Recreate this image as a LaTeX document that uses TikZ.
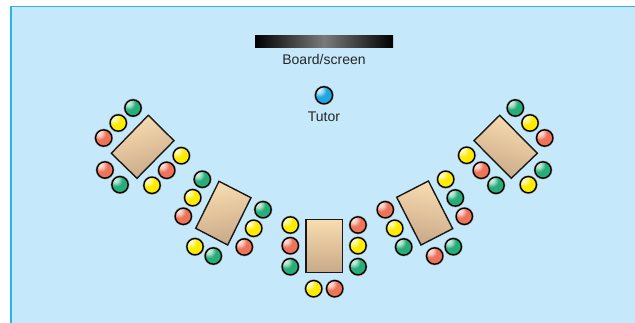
\documentclass[tikz,border=0pt]{standalone}
\usepackage{fontspec}
\setmainfont{Liberation Sans}
\definecolor{roombg}{HTML}{C5E9FB}
\definecolor{roomline}{HTML}{29B5E8}
\definecolor{tablelight}{HTML}{FADCB0}
\definecolor{tabledark}{HTML}{C8A988}
\newcommand{\defball}[4]{%
  \pgfdeclareradialshading{#1}{\pgfpoint{-16bp}{18bp}}{%
    color(0bp)=(#2!15!white); color(10bp)=(#2!40!white); color(20bp)=(#3); color(42bp)=(#3); color(70bp)=(#4); color(100bp)=(#4)}}
\definecolor{rb}{HTML}{EE7358}\definecolor{rd}{HTML}{B04A36}
\definecolor{yb}{HTML}{FFEB00}\definecolor{yd}{HTML}{BFA800}
\definecolor{gb}{HTML}{27AE78}\definecolor{gd}{HTML}{107048}
\definecolor{bb}{HTML}{1FA5E0}\definecolor{bd}{HTML}{0F6FA8}
\defball{ballred}{rb}{rb}{rd}
\defball{ballyellow}{yb}{yb}{yd}
\defball{ballgreen}{gb}{gb}{gd}
\defball{ballblue}{bb}{bb}{bd}
\pgfdeclarehorizontalshading{boardshade}{100bp}{color(0bp)=(black); color(25bp)=(black); color(50bp)=(black!52); color(75bp)=(black); color(100bp)=(black)}
\tikzset{
  ball/.style={circle,inner sep=0pt,minimum size=12.2pt,draw=black,line width=1pt,
    preaction={draw=black!40,line width=1.8pt}},
  tablebox/.style={draw=black!90,line width=1.05pt,line join=miter,top color=tablelight,bottom color=tabledark},
  lab/.style={inner sep=0pt,text=black!85,font=\fontsize{10.5pt}{12pt}\selectfont}
}
\begin{document}
\begin{tikzpicture}[x=0.75pt,y=-0.75pt]
\useasboundingbox (0,0) rectangle (635,323);
\fill[white] (0,0) rectangle (635,323);
\fill[roombg] (11,6.5) rectangle (635,323);
\draw[roomline,line width=0.8pt] (635,6.5) -- (11,6.5) -- (11,323);
% board
\shade[shading=boardshade] (255,36) rectangle (393,48);
\node[lab] (board) at (324,59.5) {Board/screen};
\node[ball,minimum size=12.8pt,shading=ballblue] (tutor) at (324,95.3) {};
\node[lab] (tutorlab) at (324,116.5) {Tutor};
% tables
\shade[tablebox,shading angle=18] (148.3,115.3) -- (174,140.7) -- (137,178.3) -- (111.3,153.3) -- cycle;
\shade[tablebox,shading angle=10] (219,181.3) -- (251,197.7) -- (227.7,245) -- (195.7,228.3) -- cycle;
\shade[tablebox] (306,219.3) -- (342.7,219.3) -- (342.7,272.7) -- (306,272.7) -- cycle;
\shade[tablebox,shading angle=-10] (396.7,197.3) -- (428.4,181) -- (452.7,228.7) -- (421,245) -- cycle;
\shade[tablebox,shading angle=-18] (499.7,115.3) -- (537.3,153.3) -- (511.3,178.3) -- (474,140.7) -- cycle;
% students
\foreach \n/\x/\y in {r1/103.7/138,r2/166.7/170.3,r3/105/170,r4/183.3/216.3,r5/244.3/247,r6/290.3/245.7,r7/358/225,r8/334.7/288.7,r9/385.3/209.7,r10/434.7/256,r11/464.3/216.3,r12/544.7/138,r13/481.3/170.3}
  \node[ball,shading=ballred] (\n) at (\x,\y) {};
\foreach \n/\x/\y in {y1/118.3/123,y2/181.3/155.7,y3/152/185.3,y4/192.7/197.7,y5/253.7/228.3,y6/195/246.7,y7/290.3/225,y8/358/245.7,y9/313.7/288.7,y10/394.7/228.3,y11/445.7/179.3,y12/530/123,y13/466.7/155.3,y14/528.3/184.7}
  \node[ball,shading=ballyellow] (\n) at (\x,\y) {};
\foreach \n/\x/\y in {g1/133/108,g2/120/184.7,g3/202.3/179.3,g4/263/209.7,g5/213.3/256,g6/290.3/266.7,g7/358/266.7,g8/403.7/247,g9/453.3/246.7,g10/455.3/198,g11/515.3/108,g12/496/185.3,g13/543/170}
  \node[ball,shading=ballgreen] (\n) at (\x,\y) {};
\end{tikzpicture}
\end{document}
